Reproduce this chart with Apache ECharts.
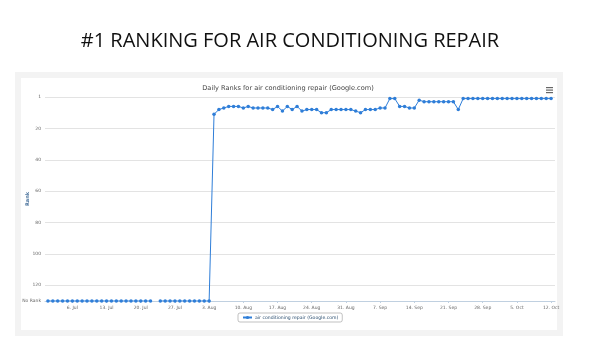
<!DOCTYPE html>
<html><head><meta charset="utf-8">
<script src="https://cdn.jsdelivr.net/npm/echarts@6/dist/echarts.min.js"></script>
<style>html,body{margin:0;padding:0;background:#fff}#c{width:600px;height:361px}</style>
</head><body><div id="c"></div>
<script>
// ---- data ----
const startDate = '2015-07-01';            // first day of daily series
const NO_RANK = 130;                        // axis value used for "No Rank"
// daily ranks, 'N' = No Rank, null = missing day
const ranks = [
 'N','N','N','N','N','N','N','N','N','N',
 'N','N','N','N','N','N','N','N','N','N',
 'N','N',null,'N','N','N','N','N','N','N',
 'N','N','N','N',
 11,8,7,6,6,6,7,6,7,7,7,7,8,6,9,6,8,6,9,8,8,8,10,10,8,8,8,8,8,9,10,8,8,8,7,7,
 1,1,6,6,7,7,2,3,3,3,3,3,3,3,8,
 1,1,1,1,1,1,1,1,1,1,1,1,1,1,1,1,1,1,1
];
const tickDates = ['2015-07-06','2015-07-13','2015-07-20','2015-07-27','2015-08-03','2015-08-10','2015-08-17','2015-08-24','2015-08-31','2015-09-07','2015-09-14','2015-09-21','2015-09-28','2015-10-05','2015-10-12'];
const months = ['Jan','Feb','Mar','Apr','May','Jun','Jul','Aug','Sep','Oct','Nov','Dec'];
const seriesName = 'air conditioning repair (Google.com)';
const yAxisTitle = 'Rank';

const DAY = 86400000;
const t0 = Date.parse(startDate + 'T00:00:00Z');
const seriesData = ranks.map((r, i) => [t0 + i * DAY, r === null ? '-' : (r === 'N' ? NO_RANK : r)]);
const ticks = tickDates.map(d => Date.parse(d + 'T00:00:00Z'));

const chart = echarts.init(document.getElementById('c'), null, {renderer: 'canvas'});
chart.setOption({
  animation: false,
  backgroundColor: '#fff',
  graphic: [
    {type: 'rect', shape: {x: 15, y: 72, width: 548, height: 264}, style: {fill: '#f3f3f3'}, z: -10},
    {type: 'rect', shape: {x: 21, y: 78, width: 536, height: 252}, style: {fill: '#fff'}, z: -9},
    {type: 'group', left: 546, top: 87, children: [
      {type: 'rect', shape: {x: 0, y: 0, width: 7, height: 1.2}, style: {fill: '#666'}},
      {type: 'rect', shape: {x: 0, y: 2.5, width: 7, height: 1.2}, style: {fill: '#666'}},
      {type: 'rect', shape: {x: 0, y: 5, width: 7, height: 1.2}, style: {fill: '#666'}}
    ]},
    {type: 'text', x: 28, y: 199, rotation: Math.PI / 2,
     style: {text: yAxisTitle, fill: '#4d759e', font: 'bold 5px "DejaVu Sans"', textAlign: 'center', textVerticalAlign: 'middle'}}
  ],
  title: [
    {text: '#1 RANKING FOR AIR CONDITIONING REPAIR', left: 290, top: 31, textAlign: 'center', padding: 0,
     textStyle: {fontFamily: 'Open Sans', fontWeight: 400, fontSize: 20, color: '#111'}},
    {text: 'Daily Ranks for air conditioning repair (Google.com)', left: 288, top: 85, textAlign: 'center', padding: 0,
     textStyle: {fontFamily: 'DejaVu Sans', fontWeight: 400, fontSize: 6.6, color: '#444'}}
  ],
  legend: {
    left: 238, top: 313, padding: [2, 4], itemGap: 4,
    borderColor: '#999', borderWidth: 0.6, borderRadius: 2,
    itemWidth: 9, itemHeight: 4,
    textStyle: {fontFamily: 'DejaVu Sans', fontSize: 4.6, color: '#274b6d', padding: [0,0,0,-2]},
    data: [seriesName]
  },
  grid: {left: 45, right: 45, top: 97, bottom: 60, containLabel: false},
  xAxis: {
    type: 'value',
    min: t0 - 0.6 * DAY,
    max: t0 + (ranks.length - 1) * DAY + 0.8 * DAY,
    axisLine: {show: true, onZero: false, lineStyle: {color: '#c0d0e0', width: 1}},
    axisTick: {show: true, customValues: ticks, length: 2, lineStyle: {color: '#c0d0e0'}},
    splitLine: {show: false},
    axisLabel: {
      customValues: ticks, fontFamily: 'DejaVu Sans', fontSize: 4.5, color: '#666', margin: 4,
      formatter: v => { const d = new Date(v); return d.getUTCDate() + '. ' + months[d.getUTCMonth()]; }
    }
  },
  yAxis: {
    type: 'value', inverse: true, min: 0, max: NO_RANK, interval: 20,
    axisLine: {show: false}, axisTick: {show: false},
    splitLine: {show: true, lineStyle: {color: '#e3e3e3', width: 1}},
    axisLabel: {
      fontFamily: 'DejaVu Sans', fontSize: 4.5, color: '#666', margin: 4, showMaxLabel: true,
      formatter: v => v === 0 ? '1' : (v === NO_RANK ? 'No Rank' : String(v))
    }
  },
  series: [{
    name: seriesName, type: 'line', data: seriesData,
    symbol: 'circle', symbolSize: 3.5, showAllSymbol: true, connectNulls: false,
    itemStyle: {color: '#2f7ed8'}, lineStyle: {color: '#2f7ed8', width: 1}
  }]
});
</script></body></html>
